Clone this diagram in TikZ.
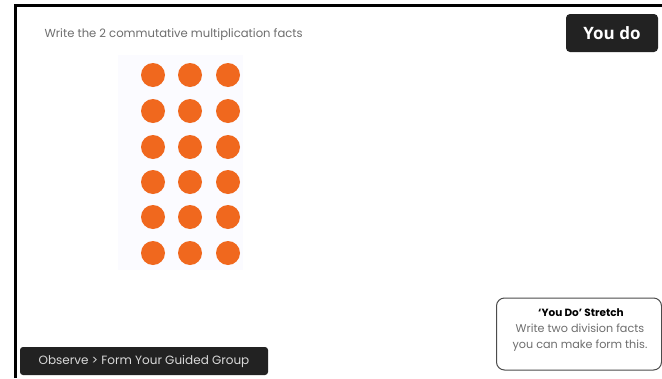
\documentclass[tikz,border=0pt]{standalone}
\usepackage{fontspec}
\setmainfont{Poppins}
\newfontfamily\boldsans{Open Sans}
\definecolor{dotorange}{RGB}{240,104,30}
\definecolor{darkbox}{RGB}{34,34,34}
\definecolor{greytext}{RGB}{110,110,110}
\begin{document}
\begin{tikzpicture}[x=1pt,y=-1pt,
  dot/.style={circle,fill=dotorange,minimum size=24pt,inner sep=0pt},
  darklabel/.style={rounded corners=4pt,fill=darkbox,text=white,inner sep=0pt}]
\useasboundingbox (0,0) rectangle (662,378);
\fill[white] (0,0) rectangle (662,378);
% frame lines
\draw[line width=3.5pt] (15.5,378) -- (15.5,5.5) -- (662,5.5);
% title
\node[anchor=west,text=greytext,font=\fontsize{11.6}{13}\selectfont] (title) at (41,35) {Write the 2 commutative multiplication facts};
% faint background of array
\fill[blue!1.5] (118,55) rectangle (243,270);
% dots
\foreach \r [count=\i] in {75,111,147,182,217,253}{
  \foreach \c [count=\j] in {153,190,228}{
    \node[dot] (d\i\j) at (\c,\r) {};
  }
}
% You do
\node[darklabel,minimum width=92pt,minimum height=38pt,font=\boldsans\bfseries\fontsize{17}{20}\selectfont] (youdo) at (612,33) {You do};
% stretch box
\node[draw=black!70,line width=1pt,rounded corners=8pt,minimum width=165pt,minimum height=72pt] (stretch) at (579,334) {};
\node[font=\bfseries\fontsize{10.5}{12}\selectfont] (st) at (581,313) {`You Do' Stretch};
\node[align=center,text=greytext,font=\fontsize{11.2}{16}\selectfont] (stt) at (580,338) {Write two division facts\\you can make form this.};
% bottom bar
\node[darklabel,rounded corners=3pt,minimum width=248pt,minimum height=28pt,text=black!15,font=\fontsize{12}{14}\selectfont] (obs) at (144,361) {Observe > Form Your Guided Group};
\end{tikzpicture}
\end{document}
